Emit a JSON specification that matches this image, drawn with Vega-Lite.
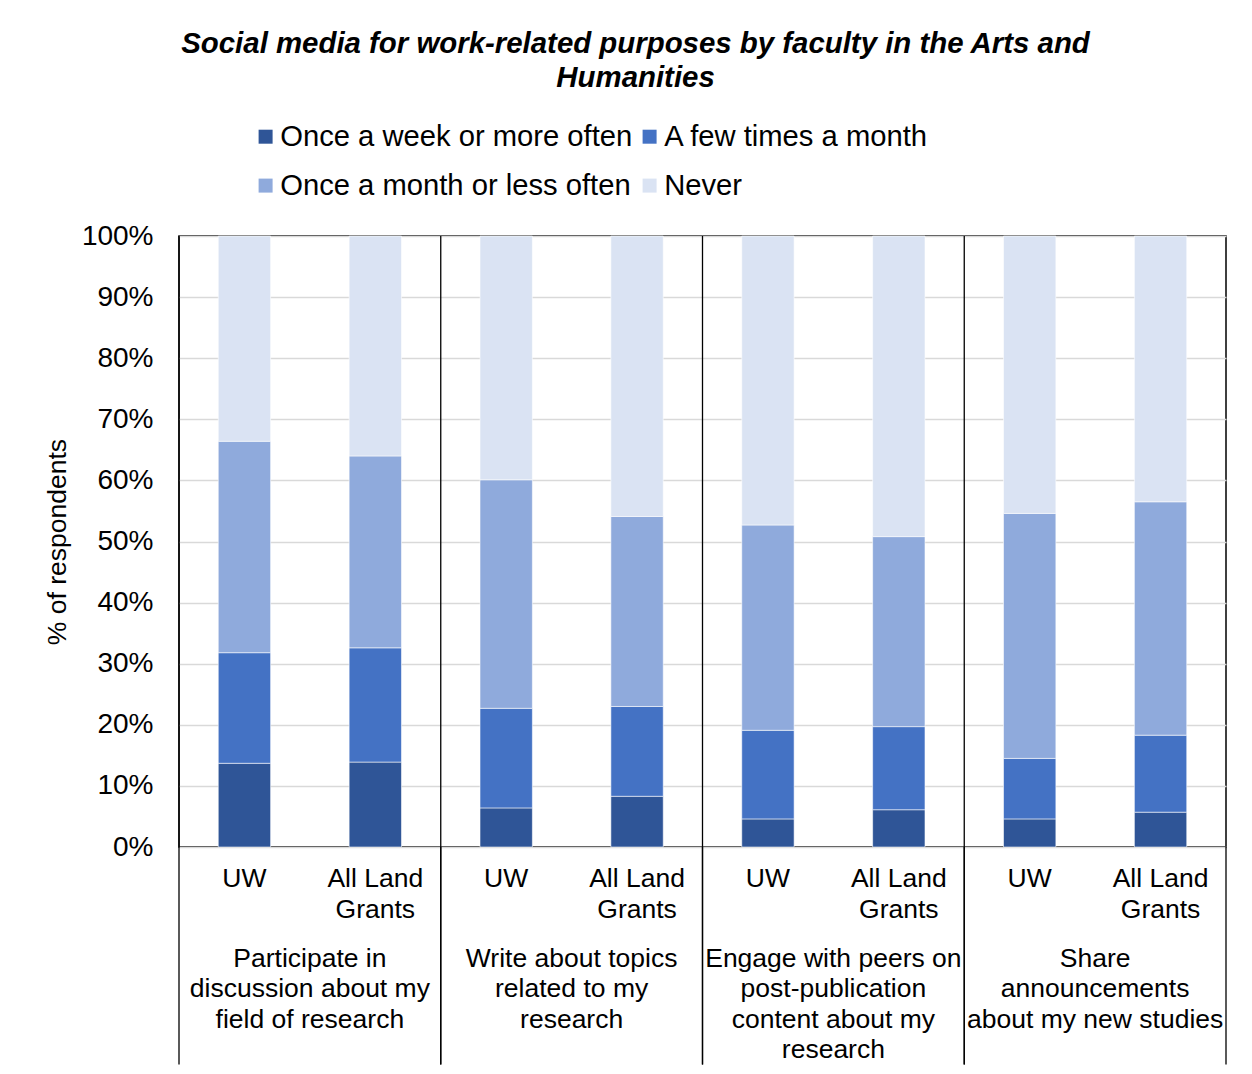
{
  "$schema": "https://vega.github.io/schema/vega-lite/v6.json",
  "width": 1047,
  "height": 611,
  "autosize": {"type": "none"},
  "padding": {"left": 179, "top": 236, "right": 26, "bottom": 227},
  "background": "white",
  "config": {
    "font": "Liberation Sans",
    "view": {"stroke": "black", "strokeWidth": 1.5},
    "axis": {"labelColor": "black", "titleColor": "black", "labelFont": "Liberation Sans", "titleFont": "Liberation Sans"},
    "legend": {"labelColor": "black"}
  },
  "title": {
    "text": ["Social media for work-related purposes by faculty in the Arts and", "Humanities"],
    "fontSize": 29.4,
    "fontWeight": "bold",
    "fontStyle": "italic",
    "font": "Liberation Sans",
    "color": "black",
    "anchor": "middle",
    "frame": "bounds",
    "lineHeight": 34,
    "offset": 29
  },
  "data": {
    "values": [
      {"group": "Participate in discussion about my field of research", "site": "UW", "category": "Once a week or more often", "rank": 1, "pct": 13.7},
      {"group": "Participate in discussion about my field of research", "site": "UW", "category": "A few times a month", "rank": 2, "pct": 18.1},
      {"group": "Participate in discussion about my field of research", "site": "UW", "category": "Once a month or less often", "rank": 3, "pct": 34.6},
      {"group": "Participate in discussion about my field of research", "site": "UW", "category": "Never", "rank": 4, "pct": 33.6},
      {"group": "Participate in discussion about my field of research", "site": "All Land Grants", "category": "Once a week or more often", "rank": 1, "pct": 13.9},
      {"group": "Participate in discussion about my field of research", "site": "All Land Grants", "category": "A few times a month", "rank": 2, "pct": 18.7},
      {"group": "Participate in discussion about my field of research", "site": "All Land Grants", "category": "Once a month or less often", "rank": 3, "pct": 31.4},
      {"group": "Participate in discussion about my field of research", "site": "All Land Grants", "category": "Never", "rank": 4, "pct": 36.0},
      {"group": "Write about topics related to my research", "site": "UW", "category": "Once a week or more often", "rank": 1, "pct": 6.4},
      {"group": "Write about topics related to my research", "site": "UW", "category": "A few times a month", "rank": 2, "pct": 16.3},
      {"group": "Write about topics related to my research", "site": "UW", "category": "Once a month or less often", "rank": 3, "pct": 37.4},
      {"group": "Write about topics related to my research", "site": "UW", "category": "Never", "rank": 4, "pct": 39.9},
      {"group": "Write about topics related to my research", "site": "All Land Grants", "category": "Once a week or more often", "rank": 1, "pct": 8.3},
      {"group": "Write about topics related to my research", "site": "All Land Grants", "category": "A few times a month", "rank": 2, "pct": 14.7},
      {"group": "Write about topics related to my research", "site": "All Land Grants", "category": "Once a month or less often", "rank": 3, "pct": 31.1},
      {"group": "Write about topics related to my research", "site": "All Land Grants", "category": "Never", "rank": 4, "pct": 45.9},
      {"group": "Engage with peers on post-publication content about my research", "site": "UW", "category": "Once a week or more often", "rank": 1, "pct": 4.6},
      {"group": "Engage with peers on post-publication content about my research", "site": "UW", "category": "A few times a month", "rank": 2, "pct": 14.5},
      {"group": "Engage with peers on post-publication content about my research", "site": "UW", "category": "Once a month or less often", "rank": 3, "pct": 33.6},
      {"group": "Engage with peers on post-publication content about my research", "site": "UW", "category": "Never", "rank": 4, "pct": 47.3},
      {"group": "Engage with peers on post-publication content about my research", "site": "All Land Grants", "category": "Once a week or more often", "rank": 1, "pct": 6.1},
      {"group": "Engage with peers on post-publication content about my research", "site": "All Land Grants", "category": "A few times a month", "rank": 2, "pct": 13.6},
      {"group": "Engage with peers on post-publication content about my research", "site": "All Land Grants", "category": "Once a month or less often", "rank": 3, "pct": 31.1},
      {"group": "Engage with peers on post-publication content about my research", "site": "All Land Grants", "category": "Never", "rank": 4, "pct": 49.2},
      {"group": "Share announcements about my new studies", "site": "UW", "category": "Once a week or more often", "rank": 1, "pct": 4.6},
      {"group": "Share announcements about my new studies", "site": "UW", "category": "A few times a month", "rank": 2, "pct": 9.9},
      {"group": "Share announcements about my new studies", "site": "UW", "category": "Once a month or less often", "rank": 3, "pct": 40.1},
      {"group": "Share announcements about my new studies", "site": "UW", "category": "Never", "rank": 4, "pct": 45.4},
      {"group": "Share announcements about my new studies", "site": "All Land Grants", "category": "Once a week or more often", "rank": 1, "pct": 5.7},
      {"group": "Share announcements about my new studies", "site": "All Land Grants", "category": "A few times a month", "rank": 2, "pct": 12.6},
      {"group": "Share announcements about my new studies", "site": "All Land Grants", "category": "Once a month or less often", "rank": 3, "pct": 38.2},
      {"group": "Share announcements about my new studies", "site": "All Land Grants", "category": "Never", "rank": 4, "pct": 43.5}
    ]
  },
  "layer": [
    {
      "mark": {"type": "bar", "stroke": "white", "strokeWidth": 0.8, "strokeOpacity": 0.7},
      "encoding": {
        "x": {
          "field": "group", "type": "nominal",
          "scale": {"domain": ["Participate in discussion about my field of research", "Write about topics related to my research", "Engage with peers on post-publication content about my research", "Share announcements about my new studies"], "paddingInner": 0, "paddingOuter": 0},
          "axis": {
            "title": null, "domain": false, "ticks": false, "grid": false,
            "labelAngle": 0, "labelFontSize": 26.5, "labelPadding": 98, "labelBaseline": "top", "labelLineHeight": 30.6, "labelLimit": 0,
            "labelExpr": "{'Participate in discussion about my field of research': ['Participate in', 'discussion about my', 'field of research'], 'Write about topics related to my research': ['Write about topics', 'related to my', 'research'], 'Engage with peers on post-publication content about my research': ['Engage with peers on', 'post-publication', 'content about my', 'research'], 'Share announcements about my new studies': ['Share', 'announcements', 'about my new studies']}[datum.label]"
          }
        },
        "xOffset": {"field": "site", "type": "nominal", "scale": {"domain": ["UW", "All Land Grants"], "paddingInner": 0.6, "paddingOuter": 0.3}},
        "y": {
          "field": "pct", "type": "quantitative", "stack": "zero",
          "scale": {"domain": [0, 100]},
          "axis": {
            "values": [0, 10, 20, 30, 40, 50, 60, 70, 80, 90, 100],
            "labelExpr": "datum.value + '%'",
            "domain": false, "ticks": false, "labelPadding": 26, "labelFontSize": 28,
            "gridColor": "#d9d9d9", "gridWidth": 1.5,
            "title": "% of respondents", "titleFontSize": 26.5, "titleFontWeight": "normal", "titlePadding": 10
          }
        },
        "color": {
          "field": "category", "type": "nominal",
          "scale": {"domain": ["Once a week or more often", "A few times a month", "Once a month or less often", "Never"], "range": ["#2F5597", "#4472C4", "#8FAADC", "#DAE3F3"]},
          "legend": {
            "title": null, "orient": "none", "legendX": 72, "legendY": -114, "columns": 2, "direction": "horizontal",
            "symbolType": "square", "symbolSize": 196, "symbolStrokeWidth": 0,
            "labelFontSize": 29.2, "labelOffset": 0, "labelLimit": 600, "columnPadding": 2, "rowPadding": 19
          }
        },
        "order": {"field": "rank", "type": "quantitative"}
      }
    },
    {
      "transform": [{"filter": "datum.site === 'UW' && datum.rank === 1"}],
      "mark": {"type": "rule", "color": "black", "strokeWidth": 1.3},
      "encoding": {
        "x": {"field": "group", "type": "nominal", "bandPosition": 0, "scale": {"domain": ["Participate in discussion about my field of research", "Write about topics related to my research", "Engage with peers on post-publication content about my research", "Share announcements about my new studies"]}},
        "y": {"datum": 100},
        "y2": {"datum": -35.6}
      }
    },
    {
      "transform": [{"filter": "datum.site === 'UW' && datum.rank === 1"}],
      "mark": {"type": "rule", "color": "black", "strokeWidth": 1.3},
      "encoding": {
        "x": {"field": "group", "type": "nominal", "bandPosition": 1, "scale": {"domain": ["Participate in discussion about my field of research", "Write about topics related to my research", "Engage with peers on post-publication content about my research", "Share announcements about my new studies"]}},
        "y": {"datum": 0},
        "y2": {"datum": -35.6}
      }
    },
    {
      "transform": [{"filter": "datum.site === 'UW' && datum.rank === 4"}],
      "mark": {"type": "text", "baseline": "top", "align": "center", "fontSize": 26.5, "dy": 19, "color": "black"},
      "encoding": {
        "x": {"field": "group", "type": "nominal", "scale": {"domain": ["Participate in discussion about my field of research", "Write about topics related to my research", "Engage with peers on post-publication content about my research", "Share announcements about my new studies"]}},
        "xOffset": {"field": "site", "type": "nominal", "scale": {"domain": ["UW", "All Land Grants"], "paddingInner": 0.6, "paddingOuter": 0.3}},
        "y": {"datum": 0},
        "text": {"field": "site"}
      }
    },
    {
      "transform": [{"filter": "datum.site === 'All Land Grants' && datum.rank === 4"}],
      "mark": {"type": "text", "baseline": "top", "align": "center", "fontSize": 26.5, "dy": 19, "lineHeight": 30.6, "color": "black"},
      "encoding": {
        "x": {"field": "group", "type": "nominal", "scale": {"domain": ["Participate in discussion about my field of research", "Write about topics related to my research", "Engage with peers on post-publication content about my research", "Share announcements about my new studies"]}},
        "xOffset": {"field": "site", "type": "nominal", "scale": {"domain": ["UW", "All Land Grants"], "paddingInner": 0.6, "paddingOuter": 0.3}},
        "y": {"datum": 0},
        "text": {"value": ["All Land", "Grants"]}
      }
    }
  ]
}
